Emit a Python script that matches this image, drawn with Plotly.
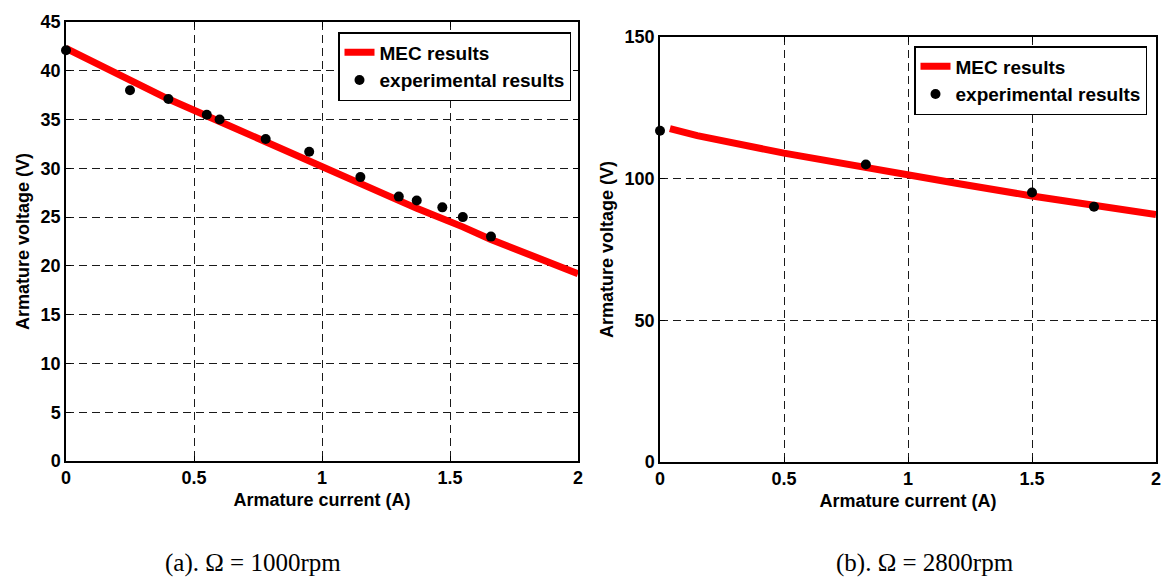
import plotly.graph_objects as go

# ---- Data: (a) 1000 rpm ----
mec_a_current = [0.0, 0.13, 0.4, 0.6, 0.8, 0.95, 1.15, 1.37, 1.55, 1.66, 2.0]
mec_a_voltage = [42.3, 40.6, 37.1, 34.8, 32.5, 30.7, 28.3, 25.9, 24.0, 22.7, 19.2]
exp_a_current = [0.0, 0.25, 0.4, 0.55, 0.6, 0.78, 0.95, 1.15, 1.3, 1.37, 1.47, 1.55, 1.66]
exp_a_voltage = [42.1, 38.0, 37.1, 35.5, 35.0, 33.0, 31.7, 29.1, 27.1, 26.7, 26.0, 25.0, 23.0]

# ---- Data: (b) 2800 rpm ----
mec_b_current = [0.04, 0.15, 0.5, 0.8, 1.0, 1.2, 1.5, 1.75, 2.0]
mec_b_voltage = [117.7, 115.2, 109.0, 104.4, 100.8, 98.3, 93.9, 90.3, 87.3]
exp_b_current = [0.0, 0.83, 1.5, 1.75]
exp_b_voltage = [116.9, 105.0, 95.1, 90.1]

x_ticks = [0, 0.5, 1, 1.5, 2]
x_tick_text = ["0", "0.5", "1", "1.5", "2"]
y_ticks_a = [0, 5, 10, 15, 20, 25, 30, 35, 40, 45]
y_ticks_b = [0, 50, 100, 150]

captions = ["(a). \u03a9 = 1000rpm", "(b). \u03a9 = 2800rpm"]
x_title = "Armature current (A)"
y_title = "Armature voltage (V)"
names = ["MEC results", "experimental results"]

W, H = 1164, 579
SANS = "Arial, Liberation Sans, sans-serif"
SERIF = "Times New Roman, Liberation Serif, serif"

fig = go.Figure()

fig.add_trace(go.Scatter(x=mec_a_current, y=mec_a_voltage, mode="lines", name=names[0],
                         line=dict(color="#ff0000", width=7), xaxis="x", yaxis="y",
                         legend="legend"))
fig.add_trace(go.Scatter(x=exp_a_current, y=exp_a_voltage, mode="markers", name=names[1],
                         marker=dict(color="black", size=10), xaxis="x", yaxis="y",
                         cliponaxis=False, legend="legend"))
fig.add_trace(go.Scatter(x=mec_b_current, y=mec_b_voltage, mode="lines", name=names[0],
                         line=dict(color="#ff0000", width=7), xaxis="x2", yaxis="y2",
                         legend="legend2"))
fig.add_trace(go.Scatter(x=exp_b_current, y=exp_b_voltage, mode="markers", name=names[1],
                         marker=dict(color="black", size=10), xaxis="x2", yaxis="y2",
                         cliponaxis=False, legend="legend2"))

def px_x(p):
    return p / W

def px_y(p):
    return (H - p) / H

tickfont = dict(family=SANS, size=18, color="black", weight="bold")
titlefont = dict(family=SANS, size=18, color="black", weight="bold")
legendfont = dict(family=SANS, size=19, color="black", weight="bold")
common = dict(showline=True, linecolor="black", linewidth=1.5, mirror="ticks",
              ticks="inside", ticklen=5, tickcolor="black", showgrid=True,
              gridcolor="#1a1a1a", gridwidth=1, griddash="8px,5px", zeroline=False,
              tickfont=tickfont, automargin=False, fixedrange=True)

fig.update_layout(
    width=W, height=H,
    margin=dict(l=0, r=0, t=0, b=0),
    paper_bgcolor="white", plot_bgcolor="white",
    showlegend=True,
    xaxis=dict(domain=[px_x(66), px_x(578)], range=[0, 2], tickvals=x_ticks, ticktext=x_tick_text,
               anchor="y", title=dict(text=x_title, font=titlefont, standoff=6), **common),
    yaxis=dict(domain=[px_y(461), px_y(22)], range=[0, 45], tickvals=y_ticks_a,
               anchor="x", title=dict(text=y_title, font=titlefont, standoff=6), **common),
    xaxis2=dict(domain=[px_x(660), px_x(1156)], range=[0, 2], tickvals=x_ticks, ticktext=x_tick_text,
                anchor="y2", title=dict(text=x_title, font=titlefont, standoff=6), **common),
    yaxis2=dict(domain=[px_y(462), px_y(37)], range=[0, 150], tickvals=y_ticks_b,
                anchor="x2", title=dict(text=y_title, font=titlefont, standoff=6), **common),
    legend=dict(x=px_x(571), y=px_y(32), xanchor="right", yanchor="top",
                bgcolor="white", bordercolor="black", borderwidth=1.5,
                font=legendfont, tracegroupgap=0),
    legend2=dict(x=px_x(1147), y=px_y(46), xanchor="right", yanchor="top",
                 bgcolor="white", bordercolor="black", borderwidth=1.5,
                 font=legendfont, tracegroupgap=0),
    annotations=[
        dict(text=captions[0], x=px_x(253), y=px_y(563), xref="paper", yref="paper",
             showarrow=False, xanchor="center", yanchor="middle",
             font=dict(family=SERIF, size=25, color="black")),
        dict(text=captions[1], x=px_x(925), y=px_y(563), xref="paper", yref="paper",
             showarrow=False, xanchor="center", yanchor="middle",
             font=dict(family=SERIF, size=25, color="black")),
    ],
)

fig.write_html("out.html", config={"displayModeBar": False},
               post_script="document.body.style.margin='0px';document.body.style.overflow='hidden';")
